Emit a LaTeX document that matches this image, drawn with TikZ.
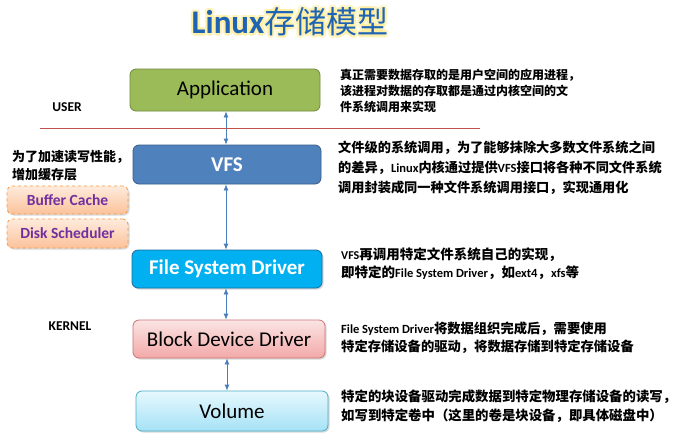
\documentclass[tikz,border=0pt]{standalone}
\usepackage{fontspec}
\setmainfont{Carlito}
\newfontfamily\cjk{Noto Sans CJK SC}
\newfontfamily\lat{Carlito}
\usetikzlibrary{arrows.meta,shadows}
\definecolor{appg}{HTML}{9BBB59}
\definecolor{appb}{HTML}{71893F}
\definecolor{vfsf}{HTML}{4F81BD}
\definecolor{vfsb}{HTML}{385D8A}
\definecolor{fsdf}{HTML}{00B0F0}
\definecolor{fsdb}{HTML}{1F6C9A}
\definecolor{bddt}{HTML}{FBE4E4}
\definecolor{bddm}{HTML}{F2A9A8}
\definecolor{bddb}{HTML}{C0504D}
\definecolor{volt}{HTML}{E6F8FE}
\definecolor{volm}{HTML}{A5E2F6}
\definecolor{volb}{HTML}{4BACC6}
\definecolor{orgt}{HTML}{FEEBDD}
\definecolor{orgm}{HTML}{FBC29A}
\definecolor{orgb}{HTML}{F79646}
\definecolor{purp}{HTML}{7030A0}
\definecolor{arr}{HTML}{4A7EBB}
\definecolor{redl}{HTML}{C0504D}
\definecolor{ttl}{HTML}{1F64B4}
\definecolor{glow}{HTML}{FFEE99}
\newcommand{\ttltext}{{\fontsize{33}{35}\selectfont\lat\bfseries Linux}{\fontsize{31}{33}\selectfont\cjk 存储模型}}
\begin{document}
\begin{tikzpicture}[x=1pt,y=-1pt,
  layer/.style={rounded corners=6pt, inner sep=0pt, line width=0.8pt,
    font=\fontsize{21}{23}\selectfont},
  boldlayer/.style={layer, text=white, font=\fontsize{21}{23}\selectfont\bfseries},
  shad/.style={drop shadow={shadow xshift=1.5pt, shadow yshift=-1.5pt, opacity=0.25, fill=black!60}},
  cachebox/.style={rounded corners=5pt, inner sep=0pt, line width=0.8pt, dashed, draw=orgb,
    top color=orgt, bottom color=orgm, minimum width=121pt,
    text=purp, font=\fontsize{15.5}{17}\selectfont\bfseries, shad},
  link/.style={draw=arr, line width=0.8pt, {Latex[length=6pt,width=5pt]}-{Latex[length=6pt,width=5pt]}},
  note/.style={anchor=west, inner sep=0pt, font=\cjk\bfseries},
  side/.style={anchor=center, inner sep=0pt, font=\fontsize{13.5}{15}\selectfont\bfseries},
  glowtxt/.style={text=glow, inner sep=0pt}
]
\useasboundingbox (0,0) rectangle (679,437);
\fill[white] (0,0) rectangle (679,437);

% title with glow
\foreach \a in {0,45,...,315}{
  \node[glowtxt, opacity=0.5] at ([shift={(\a:2.6)}]290,22) {\ttltext};
}
\node[text=ttl, inner sep=0pt] (title) at (290,22) {\ttltext};

% layer boxes
\node[layer, draw=appb, fill=appg, minimum width=190pt, minimum height=42pt] (app) at (225,90) {Application};
\node[boldlayer, draw=vfsb, fill=vfsf, minimum width=188pt, minimum height=39pt] (vfs) at (227,164.5) {VFS};
\node[boldlayer, draw=fsdb, fill=fsdf, minimum width=190pt, minimum height=38pt, shad] (fsd) at (227,269) {File System Driver};
\node[layer, draw=bddb!80, top color=bddt, bottom color=bddm, minimum width=192pt, minimum height=38pt, shad] (bdd) at (229,339) {Block Device Driver};
\node[layer, draw=volb, top color=volt, bottom color=volm, minimum width=192pt, minimum height=40pt, shad] (vol) at (232,411) {Volume};

% cache boxes
\node[cachebox, minimum height=28pt] (buf) at (67.5,200) {Buffer Cache};
\node[cachebox, minimum height=29pt] (disk) at (67.5,233.5) {Disk Scheduler};

% connectors
\draw[link] ([xshift=1pt]app.south) -- ([xshift=1pt]app.south |- vfs.north);
\draw[link] ([xshift=-1pt]vfs.south) -- ([xshift=-1pt]vfs.south |- fsd.north);
\draw[link] ([xshift=-1pt]fsd.south) -- ([xshift=-1pt]fsd.south |- bdd.north);
\draw[link] ([xshift=-2pt]bdd.south) -- ([xshift=-2pt]bdd.south |- vol.north);

% user / kernel separator
\coordinate (rl) at (40,128);
\coordinate (rr) at (480,128);
\draw[redl, line width=0.7pt] (rl) -- (rr);
\node[side] (user) at (67,107) {USER};
\node[side] (kernel) at (70,326) {KERNEL};

% left note
\node[note, font=\cjk\bfseries\fontsize{13}{15}\selectfont] (l1) at (12,157) {为了加速读写性能，};
\node[note, font=\cjk\bfseries\fontsize{13}{15}\selectfont] (l2) at (12,175) {增加缓存层};

% right notes
\node[note, font=\cjk\bfseries\fontsize{12}{14}\selectfont] (a1) at (340,75) {真正需要数据存取的是用户空间的应用进程，};
\node[note, font=\cjk\bfseries\fontsize{12}{14}\selectfont] (a2) at (340,91) {该进程对数据的存取都是通过内核空间的文};
\node[note, font=\cjk\bfseries\fontsize{12}{14}\selectfont] (a3) at (340,107) {件系统调用来实现};

\node[note, font=\cjk\bfseries\fontsize{13.2}{15}\selectfont] (b1) at (338,148) {文件级的系统调用，为了能够抹除大多数文件系统之间};
\node[note, font=\cjk\bfseries\fontsize{13.2}{15}\selectfont] (b2) at (338,168) {的差异，{\lat\fontsize{12.5}{14}\selectfont Linux}内核通过提供{\lat\fontsize{12.5}{14}\selectfont VFS}接口将各种不同文件系统};
\node[note, font=\cjk\bfseries\fontsize{13.2}{15}\selectfont] (b3) at (338,188) {调用封装成同一种文件系统调用接口，实现通用化};

\node[note, font=\cjk\bfseries\fontsize{13.5}{15}\selectfont] (c1) at (341,255) {{\lat\fontsize{12}{14}\selectfont VFS}再调用特定文件系统自己的实现，};
\node[note, font=\cjk\bfseries\fontsize{13.5}{15}\selectfont] (c2) at (341,273) {即特定的{\lat\fontsize{12.5}{14}\selectfont File System Driver}，如{\lat\fontsize{12.5}{14}\selectfont ext4}，{\lat\fontsize{12.5}{14}\selectfont xfs}等};

\node[note, font=\cjk\bfseries\fontsize{13.3}{15}\selectfont] (d1) at (341,329) {{\lat\fontsize{12.5}{14}\selectfont File System Driver}将数据组织完成后，需要使用};
\node[note, font=\cjk\bfseries\fontsize{13.3}{15}\selectfont] (d2) at (341,347) {特定存储设备的驱动，将数据存储到特定存储设备};

\node[note, font=\cjk\bfseries\fontsize{13.4}{15}\selectfont] (e1) at (341,397) {特定的块设备驱动完成数据到特定物理存储设备的读写，};
\node[note, font=\cjk\bfseries\fontsize{13.4}{15}\selectfont] (e2) at (341,416) {如写到特定卷中（这里的卷是块设备，即具体磁盘中）};
\end{tikzpicture}
\end{document}
